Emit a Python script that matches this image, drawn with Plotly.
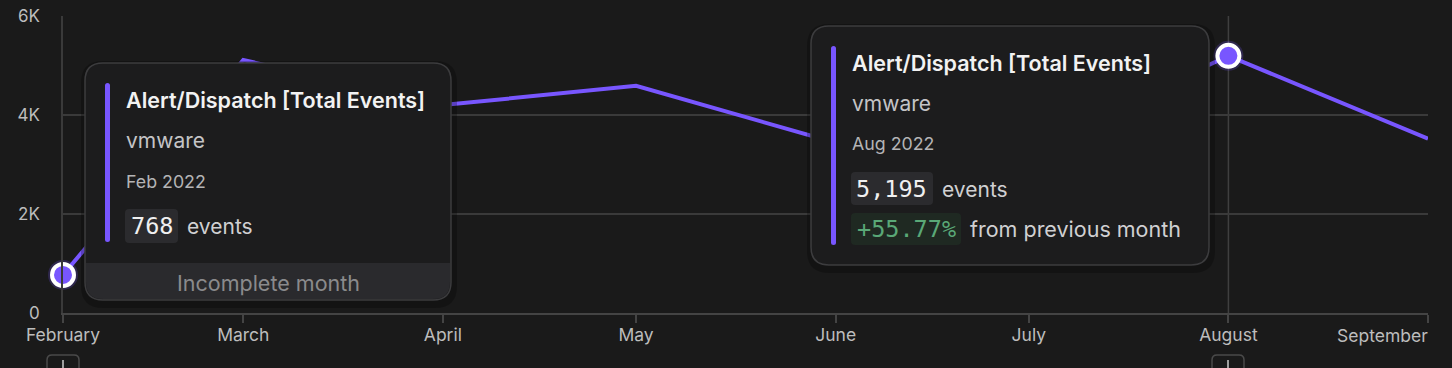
import plotly.graph_objects as go
import datetime

# ---------------- data ----------------
months = ["2022-02-01", "2022-03-01", "2022-04-01", "2022-05-01",
          "2022-06-01", "2022-07-01", "2022-08-01", "2022-09-01"]
events = [768, 5110, 4200, 4590, 3440, 3335, 5195, 3520]
month_labels = ["February", "March", "April", "May", "June", "July", "August", "September"]
ytick_vals = [0, 2000, 4000, 6000]
ytick_text = ["0", "2K", "4K", "6K"]
series_name = "Alert/Dispatch [Total Events]"
segment = "vmware"
highlight_idx = [0, 6]  # Feb and Aug points

# ---------------- style ----------------
BG = "#1a1a1a"
PURPLE = "#7856ff"
GRID = "#3a3a3a"
FONT = "Inter"
MONO = "DejaVu Sans Mono"

W_PX, H_PX = 1452, 368
L, R, T, B = 63, 1428, 16, 313
PW, PH = R - L, B - T


def px(x):
    return (x - L) / PW


def py(y):
    return (B - y) / PH


def rrect(x0, y0, x1, y1, r, top=True, bottom=True):
    rt = r if top else 0
    rb = r if bottom else 0
    pts = [f"M {px(x0 + rt)},{py(y0)}", f"L {px(x1 - rt)},{py(y0)}"]
    if rt:
        pts.append(f"Q {px(x1)},{py(y0)} {px(x1)},{py(y0 + rt)}")
    pts.append(f"L {px(x1)},{py(y1 - rb)}")
    if rb:
        pts.append(f"Q {px(x1)},{py(y1)} {px(x1 - rb)},{py(y1)}")
    pts.append(f"L {px(x0 + rb)},{py(y1)}")
    if rb:
        pts.append(f"Q {px(x0)},{py(y1)} {px(x0)},{py(y1 - rb)}")
    pts.append(f"L {px(x0)},{py(y0 + rt)}")
    if rt:
        pts.append(f"Q {px(x0)},{py(y0)} {px(x0 + rt)},{py(y0)}")
    pts.append("Z")
    return " ".join(pts)


fig = go.Figure()

fig.add_trace(go.Scatter(
    x=months, y=events, mode="lines",
    line=dict(color=PURPLE, width=4),
    hoverinfo="skip", showlegend=False,
))
fig.add_trace(go.Scatter(
    x=[months[i] for i in highlight_idx], y=[events[i] for i in highlight_idx],
    mode="markers",
    marker=dict(size=30, color="rgba(120,86,255,0.22)", line=dict(width=0)),
    hoverinfo="skip", showlegend=False, cliponaxis=False,
))
fig.add_trace(go.Scatter(
    x=[months[i] for i in highlight_idx], y=[events[i] for i in highlight_idx],
    mode="markers",
    marker=dict(size=22, color=PURPLE, line=dict(color="white", width=4)),
    hoverinfo="skip", showlegend=False, cliponaxis=False,
))

shapes = []
annotations = []

# crosshair at August
shapes.append(dict(type="line", xref="x", yref="paper", x0=months[6], x1=months[6],
                   y0=0, y1=1, line=dict(color="#3f3f3f", width=1.5), layer="below"))

# bottom "+" buttons
for bx in (63, 1228):
    shapes.append(dict(type="path", xref="paper", yref="paper",
                       path=rrect(bx - 16, 355, bx + 16, 395, 5),
                       fillcolor=BG, line=dict(color="#4a4a4a", width=1.5), layer="above"))
    shapes.append(dict(type="line", xref="paper", yref="paper",
                       x0=px(bx), x1=px(bx), y0=py(360), y1=py(372),
                       line=dict(color="#cccccc", width=1.5), layer="above"))


def tooltip(box, bar, lines, footer=None):
    x0, y0, x1, y1 = box
    shapes.append(dict(type="path", xref="paper", yref="paper",
                       path=rrect(x0 - 4, y0 - 2, x1 + 6, y1 + 8, 22),
                       fillcolor="rgba(0,0,0,0.25)", line=dict(width=0), layer="above"))
    shapes.append(dict(type="path", xref="paper", yref="paper",
                       path=rrect(x0, y0, x1, y1, 18),
                       fillcolor="#1c1c1d", line=dict(color="#3c3c3e", width=1.5), layer="above"))
    if footer:
        fy0 = footer["y0"]
        shapes.append(dict(type="path", xref="paper", yref="paper",
                           path=rrect(x0 + 1, fy0, x1 - 1, y1 - 1, 17, top=False),
                           fillcolor="#2a2a2d", line=dict(width=0), layer="above"))
        annotations.append(dict(xref="paper", yref="paper", x=px((x0 + x1) / 2), y=py(footer["ty"]),
                                text=footer["text"], showarrow=False, xanchor="center", yanchor="middle",
                                font=dict(family=FONT, size=21.5, color="#8a8a8c")))
    bx, by0, by1 = bar
    shapes.append(dict(type="path", xref="paper", yref="paper",
                       path=rrect(bx - 2.5, by0, bx + 2.5, by1, 2.5),
                       fillcolor=PURPLE, line=dict(width=0), layer="above"))
    for ln in lines:
        if ln.get("box"):
            bx0, bxy0, bx1, bxy1 = ln["box"]
            shapes.append(dict(type="path", xref="paper", yref="paper",
                               path=rrect(bx0, bxy0, bx1, bxy1, 4),
                               fillcolor=ln["boxcolor"], line=dict(width=0), layer="above"))
            annotations.append(dict(xref="paper", yref="paper", x=px((bx0 + bx1) / 2),
                                    y=py((bxy0 + bxy1) / 2), text=ln["text"], showarrow=False,
                                    xanchor="center", yanchor="middle",
                                    font=dict(family=MONO, size=23.5, color=ln["color"])))
        else:
            annotations.append(dict(xref="paper", yref="paper", x=px(ln["x"]), y=py(ln["y"]),
                                    text=ln["text"], showarrow=False, xanchor="left", yanchor="middle",
                                    font=dict(family=FONT, size=ln["size"], color=ln["color"],
                                              weight=ln.get("weight", 400))))


def month_year(d):
    return datetime.date.fromisoformat(d).strftime("%b %Y")


# tooltip for Feb
i0 = highlight_idx[0]
tooltip(
    (85, 63, 451, 300), (107.5, 83, 242),
    [
        dict(x=124, y=100, text=series_name, size=21.5, color="#f2f2f2", weight=600),
        dict(x=124, y=140, text=segment, size=21, color="#c4c4c6"),
        dict(x=124, y=181, text=month_year(months[i0]), size=17.8, color="#b4b4b6"),
        dict(box=(125, 209, 178, 243), boxcolor="#2b2b2e", text=f"{events[i0]:,}", color="#f0f0f0"),
        dict(x=185, y=226, text="events", size=21, color="#d0d0d2"),
    ],
    footer=dict(y0=263, ty=283, text="Incomplete month"),
)

# tooltip for Aug
i1 = highlight_idx[1]
pct = (events[i1] - events[i1 - 1]) / events[i1 - 1] * 100
tooltip(
    (811, 26, 1209, 265), (833.5, 46, 245),
    [
        dict(x=850, y=63, text=series_name, size=21.5, color="#f2f2f2", weight=600),
        dict(x=850, y=103, text=segment, size=21, color="#c4c4c6"),
        dict(x=850, y=143, text=month_year(months[i1]), size=17.8, color="#b4b4b6"),
        dict(box=(851, 172, 933, 205), boxcolor="#2b2b2e", text=f"{events[i1]:,}", color="#f0f0f0"),
        dict(x=940, y=189, text="events", size=21, color="#d0d0d2"),
        dict(box=(851, 213, 961, 245), boxcolor="#1f2922", text=f"{pct:+.2f}%", color="#5aa877"),
        dict(x=968, y=229, text="from previous month", size=21.5, color="#d0d0d2"),
    ],
)

# September label right-aligned at last tick
annotations.append(dict(xref="x", yref="paper", x=months[-1], y=0, yshift=-22,
                        text=month_labels[-1], showarrow=False, xanchor="right", yanchor="middle",
                        xshift=2, font=dict(family=FONT, size=17.5, color="#bdbdbd")))

tick_text = month_labels[:-1] + [""]

fig.update_layout(
    width=W_PX, height=H_PX,
    margin=dict(l=L, r=W_PX - R, t=T, b=H_PX - B, autoexpand=False),
    paper_bgcolor=BG, plot_bgcolor=BG,
    hovermode=False,
    showlegend=False,
    font=dict(family=FONT, color="#bdbdbd"),
    xaxis=dict(
        type="date", range=[months[0], months[-1]],
        tickvals=months, ticktext=tick_text,
        showgrid=False, zeroline=False, automargin=False,
        showline=True, linecolor="#444444", linewidth=1.5,
        ticks="outside", ticklen=8, tickcolor="#444444", tickwidth=1.5,
        ticklabelstandoff=-3,
        tickfont=dict(family=FONT, size=17.5, color="#bdbdbd"),
        fixedrange=True,
    ),
    yaxis=dict(
        range=[0, 6000], tickvals=ytick_vals, ticktext=ytick_text,
        showgrid=True, gridcolor=GRID, gridwidth=1.5, zeroline=False, automargin=False,
        showline=True, linecolor="#3a3a3a", linewidth=1.5,
        ticks="", ticklabelstandoff=18,
        tickfont=dict(family=FONT, size=17, color="#bdbdbd"),
        fixedrange=True,
    ),
    shapes=shapes,
    annotations=annotations,
)

fig.write_html("out.html", config=dict(displayModeBar=False),
               post_script="document.body.style.margin='0';document.body.style.overflow='hidden';")
